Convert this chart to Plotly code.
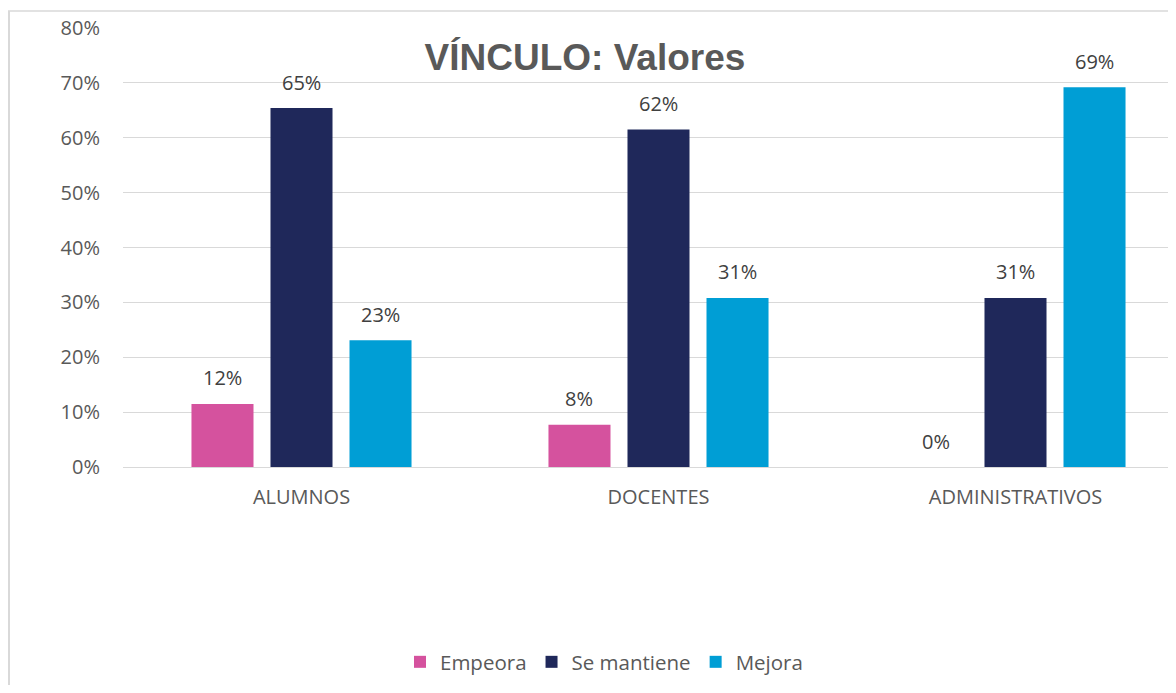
import plotly.graph_objects as go

categories = ["ALUMNOS", "DOCENTES", "ADMINISTRATIVOS"]
series_names = ["Empeora", "Se mantiene", "Mejora"]
empeora = [0.115, 0.077, 0.0]
se_mantiene = [0.654, 0.615, 0.308]
mejora = [0.231, 0.308, 0.692]
colors = ["#D5529E", "#1F285A", "#009ED5"]
y_ticks = [0, 0.1, 0.2, 0.3, 0.4, 0.5, 0.6, 0.7, 0.8]
y_tick_labels = ["0%", "10%", "20%", "30%", "40%", "50%", "60%", "70%", "80%"]

# page body has an 8px margin; figure is placed at (8, 8)
OFF = 8
W, H = 1176 - 2 * OFF, 693 - 2 * OFF
ML = 123 - OFF
MT = 28 - OFF
plot_bottom = 467 - OFF
MB = H - plot_bottom
plot_w = W - ML
plot_h = plot_bottom - MT
cat_px = 357.0
BARGAP = 0.336
BARGROUPGAP = 0.215
slot_px = (1 - BARGAP) * cat_px / 3

def px_x(p):
    return (p - OFF - ML) / plot_w

def px_y(p):
    return (plot_bottom - (p - OFF)) / plot_h

FONT = "Open Sans, Calibri, sans-serif"

fig = go.Figure()
annotations = []
all_series = [empeora, se_mantiene, mejora]
for i, (name, vals, col) in enumerate(zip(series_names, all_series, colors)):
    fig.add_trace(go.Bar(
        name=name, x=categories, y=vals, marker=dict(color=col, line=dict(width=0)),
    ))
    for c, v in zip(categories, vals):
        annotations.append(dict(
            x=c, y=v, xref="x", yref="y", text=f"{round(v * 100)}%", showarrow=False,
            xanchor="center", yanchor="middle", xshift=(i - 1) * slot_px, yshift=26,
            font=dict(family=FONT, size=20, color="#404040"),
        ))

fig.update_layout(
    width=W, height=H,
    margin=dict(l=ML, r=0, t=MT, b=MB, pad=0),
    paper_bgcolor="white", plot_bgcolor="white",
    barmode="group", bargap=BARGAP, bargroupgap=BARGROUPGAP,
    font=dict(family=FONT, color="#595959"),
    title=dict(text="<b>VÍNCULO: Valores</b>", x=(585 - OFF) / W, xanchor="center",
               y=1 - (57 - OFF) / H, yanchor="middle",
               font=dict(family="Liberation Sans, Arial, sans-serif", size=37, color="#595959")),
    xaxis=dict(range=[-0.5, -0.5 + plot_w / cat_px], showgrid=False, zeroline=False,
               showline=False, ticks="", ticklabelstandoff=16,
               tickfont=dict(family=FONT, size=20, color="#595959"), fixedrange=True),
    yaxis=dict(range=[0, 0.8], tickvals=y_ticks, ticktext=y_tick_labels,
               showgrid=True, gridcolor="#D9D9D9", gridwidth=1, zeroline=True,
               zerolinecolor="#D9D9D9", zerolinewidth=1, showline=False,
               ticks="", ticklabelstandoff=22,
               tickfont=dict(family=FONT, size=20, color="#595959"), fixedrange=True),
    legend=dict(orientation="h", x=px_x(604), xanchor="center", y=px_y(662), yanchor="middle",
                font=dict(family=FONT, size=20.5, color="#595959"), traceorder="normal",
                itemwidth=30, bgcolor="rgba(0,0,0,0)"),
    annotations=annotations,
    shapes=[
        dict(type="line", xref="paper", yref="paper", x0=px_x(9), x1=px_x(9),
             y0=px_y(11), y1=px_y(720), line=dict(color="#D9D9D9", width=2)),
        dict(type="line", xref="paper", yref="paper", x0=px_x(8), x1=px_x(1200),
             y0=px_y(11), y1=px_y(11), line=dict(color="#D9D9D9", width=1.5)),
    ],
)

fig.write_html("out.html")
